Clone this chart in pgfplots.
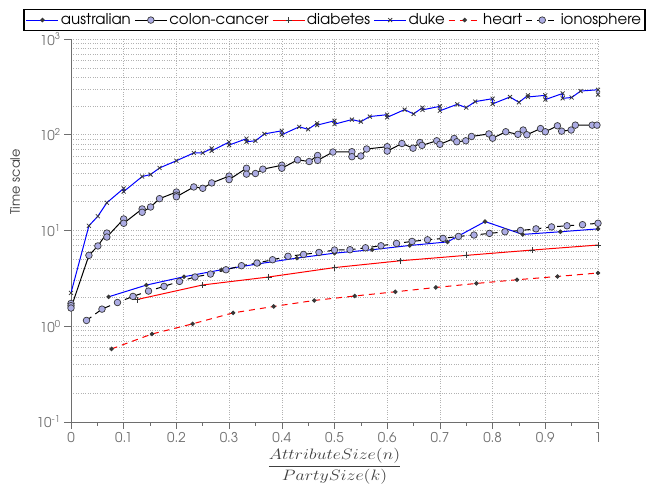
\documentclass[border=0pt]{standalone}
\usepackage{graphicx}
\usepackage{pgfplots}
\pgfplotsset{compat=1.18}
\usepackage{fontspec}
\setmainfont{texgyreadventor-regular.otf}
\definecolor{lav}{RGB}{172,172,228}
\definecolor{mk}{RGB}{55,55,55}
\definecolor{axgray}{RGB}{110,110,110}
\definecolor{pblue}{RGB}{0,0,255}
\definecolor{pred}{RGB}{255,0,0}

\begin{document}
\begin{tikzpicture}
\path[use as bounding box] (-71bp,-65bp) rectangle (575bp,422bp);
\begin{axis}[
    scale only axis,
    width=527bp, height=383bp,
    xmin=0, xmax=1,
    ymin=0.1, ymax=1000,
    ymode=log, log basis y=10,
    axis x line*=bottom, axis y line*=left,
    axis line style={axgray, line width=0.8bp},
    tick style={axgray, line width=0.6bp},
    tick align=outside,
    major tick length=7bp, minor tick length=0bp,
    xtick={0,0.1,...,1.0},
    extra x ticks={0.05,0.15,0.25,0.35,0.45,0.55,0.65,0.75,0.85,0.95},
    extra x tick labels={},
    extra x tick style={grid=none, major tick length=4bp},
    ytick={0.1,1,10,100,1000},
    minor ytick={0.2,0.3,0.4,0.5,0.6,0.7,0.8,0.9,2,3,4,5,6,7,8,9,20,30,40,50,60,70,80,90,200,300,400,500,600,700,800,900},
    yticklabels={10\textsuperscript{-1},10\textsuperscript{0},10\textsuperscript{1},10\textsuperscript{2},10\textsuperscript{3}},
    xticklabel style={/pgf/number format/assume math mode=true, /pgf/number format/fixed},
    ticklabel style={font=\fontsize{13.5}{15}\selectfont, text=axgray},
    xmajorgrids=true, ymajorgrids=true, yminorgrids=true,
    major grid style={dotted, gray!60, line width=0.6bp},
    minor grid style={dotted, gray!60, line width=0.6bp},
    ylabel={Time scale},
    ylabel style={font=\fontsize{13}{15}\selectfont, text=black!75, at={(axis description cs:-0.106,0.627)}, anchor=center},
    xlabel={\scalebox{1.25}[1.05]{$\displaystyle\frac{AttributeSize(n)}{PartySize(k)}$}},
    xlabel style={font=\fontsize{15.5}{17}\selectfont, text=black!75, at={(axis description cs:0.5,0)}, anchor=center, yshift=-44bp},
    every axis plot/.append style={line width=1bp},
    legend columns=6,
    legend style={at={(0.5,1)}, anchor=south, yshift=8bp, draw=black, line width=1.3bp,
        font=\fontsize{15}{17}\selectfont, inner sep=2bp,
        /tikz/every even column/.append style={column sep=1.5bp}},
    legend image code/.code={\draw[mark repeat=2,mark phase=2] plot coordinates {(0bp,0bp) (16bp,0bp) (32bp,0bp)};},
]
% australian
\addplot[pblue, mark=*, mark size=1.7bp, mark options={solid, fill=mk, draw=mk}] coordinates {
(0.0714,2.03) (0.1429,2.69) (0.2143,3.29) (0.2857,3.89) (0.3571,4.5) (0.4286,5.15) (0.5,5.8)
(0.5714,6.3) (0.6429,6.98) (0.7143,7.6) (0.7857,12.4) (0.8571,9.1) (0.9286,9.7) (1,10.4)};
\addlegendentry{australian}
% colon-cancer
\addplot[black, mark=*, mark size=3.3bp, mark options={solid, fill=lav, draw=mk, line width=0.7bp}] coordinates {
(0,1.73) (0,1.64) (0,1.55) (0.034,5.5) (0.051,6.9) (0.068,9.4) (0.068,8.55) (0.1,13.2) (0.1,11.9)
(0.135,16.8) (0.135,15.5) (0.151,17.6) (0.168,21.5) (0.2,25.2) (0.2,23.4) (0.2,22.5) (0.233,28.5)
(0.25,27.6) (0.267,31.4) (0.3,37) (0.3,34) (0.333,44.7) (0.333,38.8) (0.35,39.4) (0.364,43.7)
(0.4,48) (0.4,44.7) (0.43,54.7) (0.452,52.5) (0.468,60.7) (0.468,54) (0.497,66) (0.533,66.5)
(0.533,59) (0.55,60) (0.561,71) (0.6,75) (0.6,67.5) (0.628,81) (0.649,72.4) (0.662,83) (0.666,77.5)
(0.694,86.5) (0.7,79.5) (0.727,91.4) (0.732,84.5) (0.749,86.5) (0.76,96) (0.793,102) (0.8,92)
(0.825,107.5) (0.848,101) (0.858,112) (0.865,100) (0.891,116) (0.9,107.5) (0.923,124) (0.931,109)
(0.949,112) (0.957,126) (0.989,126) (0.998,126)};
\addlegendentry{colon-cancer}
% diabetes
\addplot[pred, mark=+, mark size=3bp, mark options={solid, draw=mk, line width=0.7bp}] coordinates {
(0.125,1.9) (0.25,2.7) (0.375,3.27) (0.5,4.1) (0.625,4.83) (0.75,5.5) (0.875,6.25) (1,7.05)};
\addlegendentry{diabetes}
% duke
\addplot[pblue, mark=x, mark size=2.8bp, mark options={solid, draw=mk, line width=0.8bp}] coordinates {
(0,2.23) (0.034,11.2) (0.051,14.1) (0.068,19.5) (0.1,27.5) (0.1,25.5) (0.135,36.6) (0.151,38.4)
(0.168,45) (0.2,53.5) (0.233,64.6) (0.25,64.6) (0.267,72) (0.267,68) (0.3,84) (0.3,78)
(0.333,91) (0.333,84.5) (0.35,86.5) (0.367,102) (0.4,110) (0.4,100) (0.433,121) (0.45,114)
(0.467,132) (0.467,126) (0.5,140) (0.5,129) (0.533,144) (0.55,137) (0.567,155) (0.6,162)
(0.6,152) (0.633,183) (0.65,165) (0.667,192) (0.667,182) (0.7,198) (0.7,178) (0.733,208)
(0.75,192) (0.767,222) (0.8,238) (0.8,210) (0.833,248) (0.85,218) (0.867,258) (0.867,248)
(0.9,258) (0.9,233) (0.933,270) (0.933,240) (0.95,245) (0.967,286) (1,295) (1,263)};
\addlegendentry{duke}
% heart
\addplot[pred, dash pattern=on 6bp off 5bp, mark=*, mark size=1.7bp, mark options={solid, fill=mk, draw=mk}] coordinates {
(0.0769,0.58) (0.1538,0.83) (0.2308,1.06) (0.3077,1.38) (0.3846,1.61) (0.4615,1.86) (0.5385,2.07)
(0.6154,2.29) (0.6923,2.54) (0.7692,2.8) (0.8462,3.06) (0.9231,3.31) (1,3.6)};
\addlegendentry{heart}
% ionosphere
\addplot[black, dash pattern=on 6bp off 5bp, mark=*, mark size=3.3bp, mark options={solid, fill=lav, draw=mk, line width=0.7bp}] coordinates {
(0.0294,1.15) (0.0588,1.51) (0.0882,1.77) (0.1176,2.05) (0.1471,2.33) (0.1765,2.61) (0.2059,2.94)
(0.2353,3.27) (0.2647,3.51) (0.2941,3.89) (0.3235,4.29) (0.3529,4.57) (0.3824,4.95) (0.4118,5.38)
(0.4412,5.62) (0.4706,5.9) (0.5,6.25) (0.5294,6.3) (0.5588,6.6) (0.5882,6.93) (0.6176,7.33)
(0.6471,7.69) (0.6765,8.0) (0.7059,8.27) (0.7353,8.67) (0.7647,8.97) (0.7941,9.33) (0.8235,9.7)
(0.8529,10.0) (0.8824,10.4) (0.9118,10.9) (0.9412,11.2) (0.9706,11.5) (1,11.9)};
\addlegendentry{ionosphere}
\end{axis}
\end{tikzpicture}
\end{document}
